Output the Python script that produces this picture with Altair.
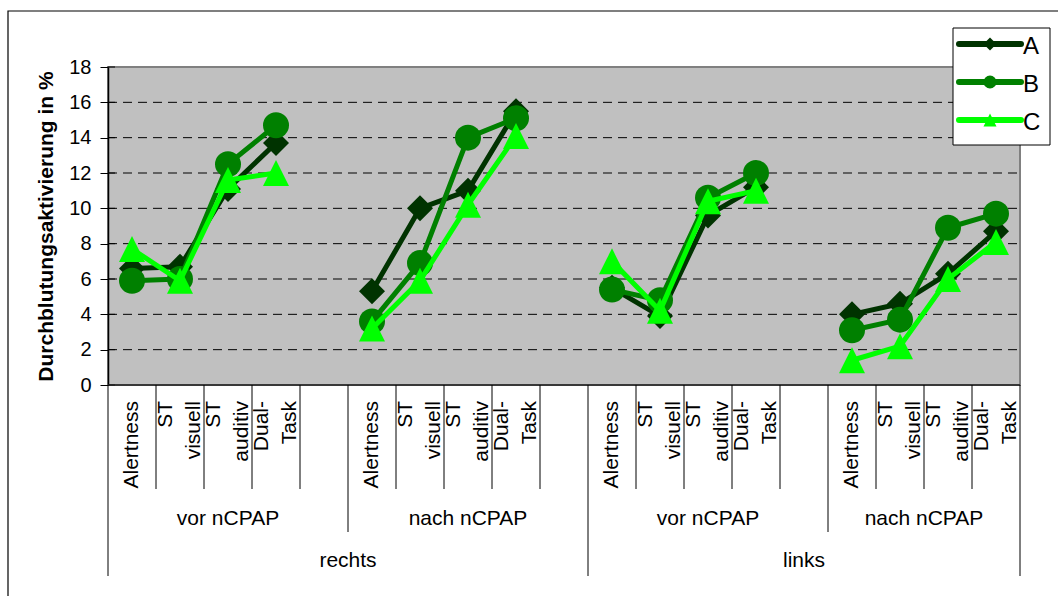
import altair as alt
import pandas as pd

# ---------------- data ----------------
series_names = ["A", "B", "C"]
series_colors = ["#003300", "#008000", "#00FF00"]
series_shapes = ["diamond", "circle", "M0,-1L1,1L-1,1Z"]

sides = ["rechts", "rechts", "links", "links"]
phases = ["vor nCPAP", "nach nCPAP", "vor nCPAP", "nach nCPAP"]
tasks = ["Alertness", "ST\nvisuell", "ST\nauditiv", "Dual-\nTask"]
slots_per_group = [5, 5, 5, 4]  # each group has an empty trailing slot except the last

values_A = [[6.6, 6.7, 11.1, 13.7], [5.3, 10.0, 11.0, 15.5], [5.5, 3.9, 9.6, 11.2], [4.0, 4.6, 6.3, 8.7]]
values_B = [[5.9, 6.0, 12.5, 14.7], [3.6, 6.9, 14.0, 15.1], [5.4, 4.8, 10.6, 12.0], [3.1, 3.7, 8.9, 9.7]]
values_C = [[7.7, 5.9, 11.6, 12.0], [3.2, 5.9, 10.2, 14.1], [7.0, 4.2, 10.4, 11.0], [1.4, 2.2, 6.0, 8.1]]

y_ticks = [0, 2, 4, 6, 8, 10, 12, 14, 16, 18]
y_title = "Durchblutungsaktivierung in %"

# ---------------- tables built from the arrays ----------------
starts = [sum(slots_per_group[:g]) for g in range(len(slots_per_group))]
total_slots = sum(slots_per_group)

rows = []
for name, vals in zip(series_names, [values_A, values_B, values_C]):
    for g, gv in enumerate(vals):
        for t, v in enumerate(gv):
            rows.append({"series": name, "grp": g, "pos": starts[g] + t + 0.5, "value": v})
df = pd.DataFrame(rows)

cat_df = pd.DataFrame([
    {"pos": starts[g] + t + 0.5, "label": lab, "multi": "\n" in lab}
    for g in range(len(phases)) for t, lab in enumerate(tasks)
])
grp_df = pd.DataFrame([
    {"pos": starts[g] + slots_per_group[g] / 2, "label": phases[g]} for g in range(len(phases))
])
side_names = []
for s in sides:
    if s not in side_names:
        side_names.append(s)
side_rows, side_edges = [], [0]
for s in side_names:
    gs = [g for g in range(len(sides)) if sides[g] == s]
    a = starts[gs[0]]
    b = starts[gs[-1]] + slots_per_group[gs[-1]]
    side_rows.append({"pos": (a + b) / 2, "label": s})
    side_edges.append(b)
side_df = pd.DataFrame(side_rows)
top_b = pd.DataFrame({"b": side_edges})
grp_b = pd.DataFrame({"b": [starts[g] for g in range(1, len(starts)) if starts[g] not in side_edges]})
cat_b = pd.DataFrame({"b": [starts[g] + k for g in range(len(starts)) for k in range(1, slots_per_group[g])]})
grid_df = pd.DataFrame({"v": y_ticks[1:-1]})
tick_df = pd.DataFrame({"v": y_ticks})
legend_df = pd.DataFrame({"series": series_names})
one = pd.DataFrame({"k": [0]})

FONT = "Liberation Sans"
W, H = 912, 318
LH = 28

xs = alt.Scale(domain=[0, total_slots], nice=False, zero=False)
ys = alt.Scale(domain=[y_ticks[0], y_ticks[-1]], nice=False, zero=False)
color_scale = alt.Scale(domain=series_names, range=series_colors)
shape_scale = alt.Scale(domain=series_names, range=series_shapes)
X = alt.X("pos:Q", scale=xs, axis=None)

layers = []

# outer frame of the chart
layers.append(alt.Chart(one).mark_rect(filled=False, stroke="black", strokeWidth=1.2).encode(
    x=alt.value(-100), x2=alt.value(1000), y=alt.value(-56), y2=alt.value(600)))

# gridlines + y axis
layers.append(alt.Chart(grid_df).mark_rule(color="black", strokeWidth=1, strokeDash=[9, 6]).encode(
    x=alt.value(0), x2=alt.value(W),
    y=alt.Y("v:Q", scale=ys, axis=alt.Axis(
        values=y_ticks, title=y_title, grid=False,
        labelFont=FONT, labelFontSize=20, labelColor="black", labelPadding=9,
        tickColor="black", tickSize=8, tickWidth=1,
        domainColor="black", domainWidth=1.5,
        titleFont=FONT, titleFontSize=21, titleFontWeight="bold", titleColor="black",
        titleAngle=270, titleAlign="center", titleBaseline="alphabetic",
        titleX=-56, titleY=H / 2))))

# inner half of the crossing y ticks
layers.append(alt.Chart(tick_df).mark_rule(color="black", strokeWidth=1).encode(
    x=alt.value(0), x2=alt.value(7), y=alt.Y("v:Q", scale=ys, axis=None)))

# bottom axis line
layers.append(alt.Chart(one).mark_rule(color="#202020", strokeWidth=1.5).encode(
    x=alt.value(0), x2=alt.value(W), y=alt.value(H)))

# series: line then markers, in series order
for name in series_names:
    base = alt.Chart(df).transform_filter(alt.datum.series == name)
    layers.append(base.mark_line(strokeWidth=5, strokeCap="round", strokeJoin="round").encode(
        x=X, y=alt.Y("value:Q", scale=ys, axis=None),
        color=alt.Color("series:N", scale=color_scale, legend=None),
        detail="grp:N"))
    layers.append(base.mark_point(filled=True, opacity=1, size=676, strokeWidth=0).encode(
        x=X, y=alt.Y("value:Q", scale=ys, axis=None),
        color=alt.Color("series:N", scale=color_scale, legend=None),
        shape=alt.Shape("series:N", scale=shape_scale, legend=None)))

# multi-level category axis: separators
for bdf, depth in [(cat_b, 104), (grp_b, 147), (top_b, 191)]:
    layers.append(alt.Chart(bdf).mark_rule(color="black", strokeWidth=1).encode(
        x=alt.X("b:Q", scale=xs, axis=None), y=alt.value(H), y2=alt.value(H + depth)))

# multi-level category axis: labels (single-line and two-line, the latter centred on the slot)
layers.append(alt.Chart(cat_df).transform_filter("!datum.multi").mark_text(
    angle=270, align="right", baseline="middle", font=FONT, fontSize=21,
    lineBreak="\n", lineHeight=LH, color="black").encode(
    x=X, y=alt.value(H + 16), text="label:N"))
layers.append(alt.Chart(cat_df).transform_filter("datum.multi").mark_text(
    angle=270, align="right", baseline="middle", font=FONT, fontSize=21,
    lineBreak="\n", lineHeight=LH, color="black", dy=-LH / 2).encode(
    x=X, y=alt.value(H + 16), text="label:N"))
layers.append(alt.Chart(grp_df).mark_text(
    align="center", baseline="middle", font=FONT, fontSize=21, color="black").encode(
    x=X, y=alt.value(H + 134), text="label:N"))
layers.append(alt.Chart(side_df).mark_text(
    align="center", baseline="middle", font=FONT, fontSize=21, color="black").encode(
    x=X, y=alt.value(H + 176), text="label:N"))

# legend
LY = alt.Y("series:N", scale=alt.Scale(type="point", domain=series_names, range=[-23, 53], padding=0), axis=None)
layers.append(alt.Chart(one).mark_rect(fill="white", stroke="black", strokeWidth=1).encode(
    x=alt.value(845), x2=alt.value(942), y=alt.value(-39), y2=alt.value(78)))
layers.append(alt.Chart(legend_df).mark_rule(strokeWidth=6, strokeCap="round").encode(
    x=alt.value(851), x2=alt.value(913), y=LY,
    color=alt.Color("series:N", scale=color_scale, legend=None)))
layers.append(alt.Chart(legend_df).mark_point(filled=True, opacity=1, size=170, strokeWidth=0).encode(
    x=alt.value(882), y=LY,
    color=alt.Color("series:N", scale=color_scale, legend=None),
    shape=alt.Shape("series:N", scale=shape_scale, legend=None)))
layers.append(alt.Chart(legend_df).mark_text(
    align="left", baseline="middle", font=FONT, fontSize=24, color="black", dy=3).encode(
    x=alt.value(915), y=LY, text="series:N"))

chart = alt.layer(*layers).resolve_scale(y="independent").properties(
    width=W, height=H,
    autosize=alt.AutoSizeParams(type="none"),
    padding={"left": 108, "top": 67, "right": 38, "bottom": 211},
    background="white",
).configure_view(fill="#C0C0C0", stroke="#808080", strokeWidth=2)

chart.save("out.html", embed_options={"renderer": "svg", "actions": False})
